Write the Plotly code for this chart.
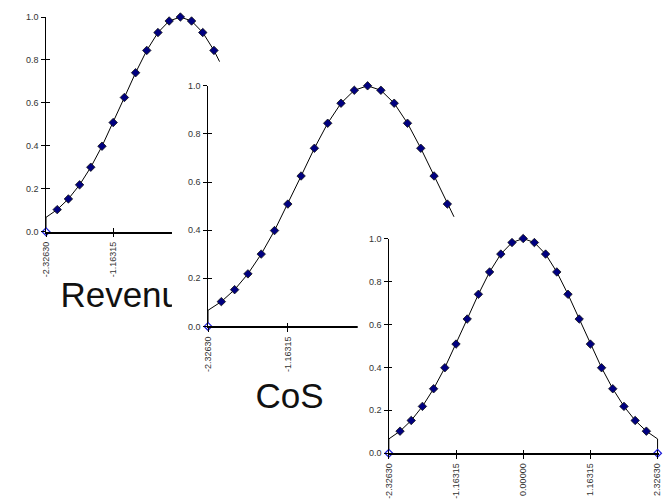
import plotly.graph_objects as go

# ---------------- data ----------------
X_VALUES = [-2.32630, -2.13244, -1.93858, -1.74473, -1.55087, -1.35701, -1.16315,
            -0.96929, -0.77543, -0.58158, -0.38772, -0.19386, 0.00000, 0.19386,
            0.38772, 0.58158, 0.77543, 0.96929, 1.16315, 1.35701, 1.55087,
            1.74473, 1.93858, 2.13244, 2.32630]
Y_VALUES = [0.0668, 0.1029, 0.1527, 0.2183, 0.3004, 0.3982, 0.5084, 0.6251,
            0.7404, 0.8444, 0.9276, 0.9814, 1.0000, 0.9814, 0.9276, 0.8444,
            0.7404, 0.6251, 0.5084, 0.3982, 0.3004, 0.2183, 0.1527, 0.1029, 0.0668]
BASELINE = 0.0
X_TICKS = [-2.32630, -1.16315, 0.00000, 1.16315, 2.32630]
X_TICK_LABELS = ["-2.32630", "-1.16315", "0.00000", "1.16315", "2.32630"]
Y_TICKS = [0.0, 0.2, 0.4, 0.6, 0.8, 1.0]
Y_TICK_LABELS = ["0.0", "0.2", "0.4", "0.6", "0.8", "1.0"]
TITLES = ["Revenue", "CoS", None]

# ---------------- layout geometry (pixels) ----------------
W, H = 666, 499
FONT = "Liberation Sans, Arial, sans-serif"
PANELS = [
    dict(box=(0, 0), ax=(41.5, 313.5), ay=(12.3, 232.3), tpos=(127, 300.0)),
    dict(box=(169, 58), ax=(205.5, 528.5), ay=(82.8, 329.3), tpos=(288, 403.5)),
    dict(box=(357, 217), ax=(388.5, 660.5), ay=(239.3, 459.3), tpos=None),
]
PAD_PX = 1.5


def xname(k):
    return "xaxis" if k == 1 else f"xaxis{k}"


def yname(k):
    return "yaxis" if k == 1 else f"yaxis{k}"


def xref(k):
    return "x" if k == 1 else f"x{k}"


def yref(k):
    return "y" if k == 1 else f"y{k}"


fig = go.Figure()
layout = dict(
    width=W, height=H, margin=dict(l=0, r=0, t=0, b=0, pad=0),
    paper_bgcolor="white", plot_bgcolor="white",
    showlegend=False, hovermode=False,
)

xmin, xmax = X_VALUES[0], X_VALUES[-1]
tick_font = dict(family=FONT, size=9, color="#333333")

for i, p in enumerate(PANELS):
    bi, di, oi = 2 * i + 1, 2 * i + 2, 7 + i
    bx, by = p["box"]
    # ---- opaque "chart object" box subplot ----
    layout[xname(bi)] = dict(domain=[bx / W, 1], range=[bx, W], visible=False,
                             fixedrange=True, anchor=yref(bi))
    layout[yname(bi)] = dict(domain=[0, 1 - by / H], range=[H, by], visible=False,
                             fixedrange=True, anchor=xref(bi))
    title = TITLES[i]
    if title:
        fig.add_trace(go.Scatter(
            x=[p["tpos"][0]], y=[p["tpos"][1]], text=[title], mode="text",
            textposition="middle center",
            textfont=dict(family=FONT, size=35, color="#111111"),
            xaxis=xref(bi), yaxis=yref(bi), hoverinfo="skip"))
    else:
        fig.add_trace(go.Scatter(
            x=[bx + 5], y=[by + 5], mode="markers", marker=dict(opacity=0),
            xaxis=xref(bi), yaxis=yref(bi), hoverinfo="skip"))

    # ---- data subplot ----
    x0, x1 = p["ax"]
    ytop, ybot = p["ay"]
    scale = (x1 - x0) / (xmax - xmin)
    xr = [xmin, xmax + PAD_PX / scale]
    xdom = [x0 / W, (x1 + PAD_PX) / W]
    ydom = [1 - ybot / H, 1 - ytop / H]
    common_x = dict(domain=xdom, range=xr, tickmode="array", tickvals=X_TICKS,
                    showgrid=False, zeroline=False, fixedrange=True)
    common_y = dict(domain=ydom, range=[0, 1], tickmode="array", tickvals=Y_TICKS,
                    showgrid=False, zeroline=False, fixedrange=True)
    layout[xname(di)] = dict(
        **common_x, ticktext=X_TICK_LABELS, anchor=yref(di), side="bottom",
        tickangle=-90, ticks="outside", ticklen=3.5,
        tickwidth=1, tickcolor="#000000", showline=True, linewidth=2,
        linecolor="#000000", tickfont=tick_font, ticklabelstandoff=1)
    layout[yname(di)] = dict(
        **common_y, ticktext=Y_TICK_LABELS, anchor=xref(di), side="left",
        ticks="outside", ticklen=3.5, tickwidth=1,
        tickcolor="#000000", showline=True, linewidth=1.2,
        linecolor="#000000", tickfont=tick_font, ticklabelstandoff=1)
    # overlay axes giving the inner half of the crossing tick marks
    layout[xname(oi)] = dict(
        range=xr, tickmode="array", tickvals=X_TICKS, overlaying=xref(di),
        anchor=yref(di), side="bottom", ticks="inside", ticklen=3.5,
        tickwidth=1, tickcolor="#000000", showticklabels=False,
        showline=False, showgrid=False, zeroline=False, fixedrange=True)
    layout[yname(oi)] = dict(
        range=[0, 1], tickmode="array", tickvals=Y_TICKS, overlaying=yref(di),
        anchor=xref(di), side="left", ticks="inside", ticklen=3.5,
        tickwidth=1, tickcolor="#000000", showticklabels=False,
        showline=False, showgrid=False, zeroline=False, fixedrange=True)

    line_x = [xmin] + X_VALUES + [xmax]
    line_y = [BASELINE] + Y_VALUES + [BASELINE]
    fig.add_trace(go.Scatter(
        x=line_x, y=line_y, mode="lines", line=dict(color="#000000", width=1),
        xaxis=xref(di), yaxis=yref(di), hoverinfo="skip"))
    fig.add_trace(go.Scatter(
        x=X_VALUES[1:-1], y=Y_VALUES[1:-1], mode="markers",
        marker=dict(symbol="diamond", size=6.5, color="#000080",
                    line=dict(color="#111111", width=0.8)),
        xaxis=xref(di), yaxis=yref(di), cliponaxis=False, hoverinfo="skip"))
    fig.add_trace(go.Scatter(
        x=[xmin, xmax], y=[BASELINE, BASELINE], mode="markers",
        marker=dict(symbol="diamond", size=6, color="white",
                    line=dict(color="#1c1cd8", width=1.2)),
        xaxis=xref(di), yaxis=yref(di), cliponaxis=False, hoverinfo="skip"))
    # dummy traces to register the overlay subplots
    fig.add_trace(go.Scatter(
        x=[0], y=[0.5], mode="markers", marker=dict(opacity=0),
        xaxis=xref(oi), yaxis=yref(di), hoverinfo="skip"))
    fig.add_trace(go.Scatter(
        x=[0], y=[0.5], mode="markers", marker=dict(opacity=0),
        xaxis=xref(di), yaxis=yref(oi), hoverinfo="skip"))

fig.update_layout(**layout)
fig.write_html("out.html")
